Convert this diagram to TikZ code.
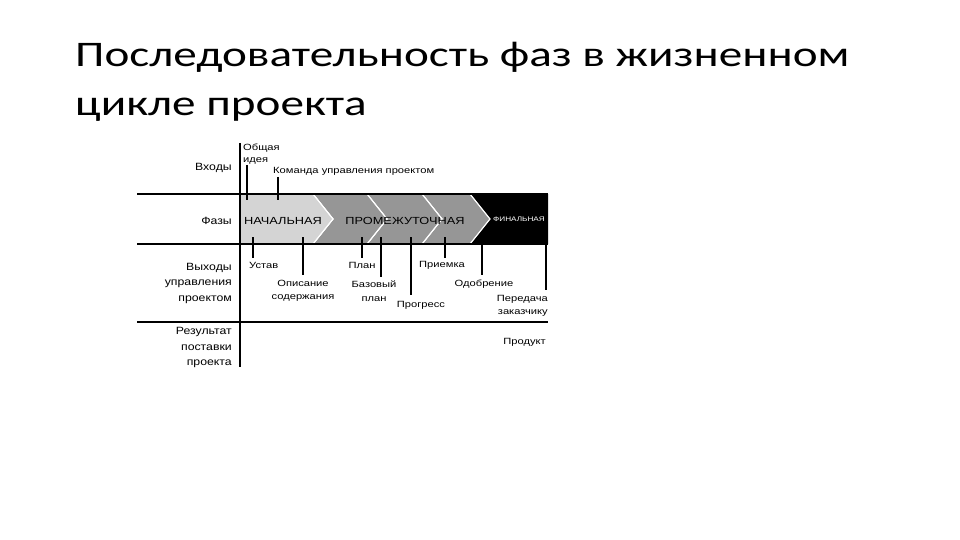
\documentclass[tikz,border=0pt]{standalone}
\usepackage{fontspec}
\setmainfont{Liberation Sans}
\newfontfamily\titlefont[FakeStretch=1.31]{Carlito}
\newfontfamily\rowfont[FakeStretch=1.17]{Liberation Sans}
\newfontfamily\labelfont[FakeStretch=1.24]{Liberation Sans}
\definecolor{pagebg}{RGB}{255,255,255}
\definecolor{inkblack}{RGB}{0,0,0}
\definecolor{phaselight}{RGB}{212,212,212}
\definecolor{phasemid}{RGB}{150,150,150}
\definecolor{phasewhite}{RGB}{255,255,255}

\begin{document}
\begin{tikzpicture}[x=1pt, y=-1pt,
    rowlabel/.style={anchor=east, align=right, font=\rowfont\fontsize{10.5}{15.5}\selectfont, inner sep=0pt},
    smalllabel/.style={align=center, font=\labelfont\fontsize{9}{13.5}\selectfont, inner sep=0pt},
    phaselabel/.style={font=\labelfont\fontsize{10.3}{12}\selectfont, inner sep=0pt}]

    \useasboundingbox[fill=pagebg] (0,0) rectangle (960,540);

    % 1. Title
    \node[anchor=base west, font=\titlefont\fontsize{36}{40}\selectfont, inner sep=0pt] (title1) at (75,67) {Последовательность фаз в жизненном};
    \node[anchor=base west, font=\titlefont\fontsize{36}{40}\selectfont, inner sep=0pt] (title2) at (75,116) {цикле проекта};

    % 2. Phase chevrons
    \fill[color=inkblack] (470,194) -- (548,194) -- (548,244) -- (470,244) -- (490,219) -- cycle;
    \foreach \a/\b in {422/470, 367/422, 313/367} {
        \filldraw[fill=phasemid, draw=phasewhite, line width=1.2pt]
            (\a,194) -- (\b,194) -- (\b+20,219) -- (\b,244) -- (\a,244) -- (\a+20,219) -- cycle;
    }
    \filldraw[fill=phaselight, draw=phasewhite, line width=1.2pt]
        (240,194) -- (313,194) -- (333,219) -- (313,244) -- (240,244) -- cycle;

    % 3. Grid lines
    \draw[color=inkblack, line width=1.8pt] (137,194) -- (548,194);
    \draw[color=inkblack, line width=1.8pt] (137,244) -- (548,244);
    \draw[color=inkblack, line width=1.8pt] (137,322) -- (548,322);
    \draw[color=inkblack, line width=1.8pt] (240,143) -- (240,367);

    % 4. Row labels
    \node[rowlabel] (inputs) at (232,168) {Входы};
    \node[rowlabel] (phases) at (232,221) {Фазы};
    \node[rowlabel] (outputs) at (232,283) {Выходы\\управления\\проектом};
    \node[rowlabel] (result) at (232,347.5) {Результат\\поставки\\проекта};

    % 5. Phase names
    \node[phaselabel] (initial) at (283,221) {НАЧАЛЬНАЯ};
    \node[phaselabel] (middle) at (405,221) {ПРОМЕЖУТОЧНАЯ};
    \node[phaselabel, color=phasewhite, font=\labelfont\fontsize{6.6}{7}\selectfont] (final) at (519,219) {ФИНАЛЬНАЯ};

    % 6. Inputs
    \node[smalllabel, anchor=west, align=left, font=\labelfont\fontsize{9}{12}\selectfont] (idea) at (243,154) {Общая\\идея};
    \node[smalllabel, anchor=west] (team) at (273,171) {Команда управления проектом};
    \foreach \x/\y in {247/165, 278/177} {
        \draw[color=inkblack, line width=1.4pt] (\x,\y) -- (\x,200);
    }

    % 7. Outputs
    \foreach \x/\y in {253/258, 303/275, 362/258, 381/277, 411/295, 445/258, 482/275, 546/290} {
        \draw[color=inkblack, line width=1.4pt] (\x,237) -- (\x,\y);
    }
    \node[smalllabel, anchor=west] (charter) at (249,265) {Устав};
    \node[smalllabel] (scope) at (303,291) {Описание\\содержания};
    \node[smalllabel] (plan) at (362,265) {План};
    \node[smalllabel] (baseline) at (374,291) {Базовый\\план};
    \node[smalllabel] (progress) at (421,305) {Прогресс};
    \node[smalllabel] (accept) at (442,265) {Приемка};
    \node[smalllabel] (approve) at (484,284) {Одобрение};
    \node[smalllabel, anchor=east, align=right] (handover) at (548,306) {Передача\\заказчику};
    \node[smalllabel, anchor=east] (product) at (546,342) {Продукт};

\end{tikzpicture}
\end{document}
